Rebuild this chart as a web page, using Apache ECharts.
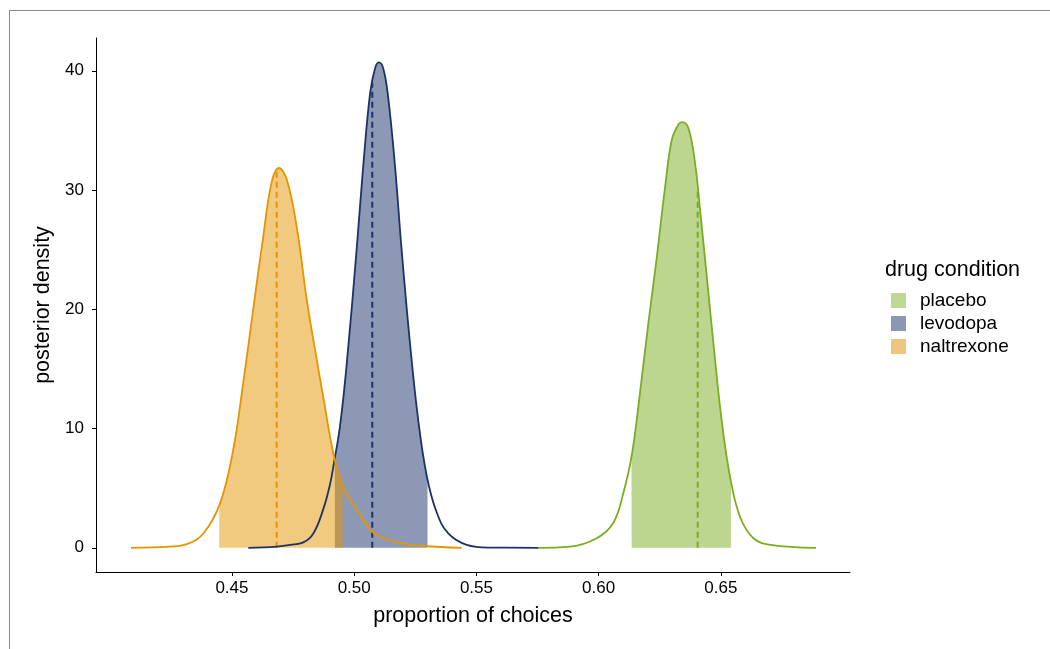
<!DOCTYPE html>
<html>
<head>
<meta charset="utf-8">
<script src="https://cdn.jsdelivr.net/npm/echarts@6/dist/echarts.min.js"></script>
<style>
  html, body { margin: 0; padding: 0; background: #fff; overflow: hidden; }
  .frame {
    position: absolute; left: 9px; top: 10px; width: 2000px; height: 2000px;
    border-left: 1px solid #8a8a8a; border-top: 1px solid #8a8a8a;
  }
  #chart { position: absolute; left: 0; top: 0; width: 1050px; height: 649px; }
</style>
</head>
<body>
<div class="frame"></div>
<div id="chart"></div>
<script>
// groups in legend order
const groups = ['placebo', 'levodopa', 'naltrexone']
const lineColors = ['#7aae22', '#1c3269', '#e69500']
const legendColors = ['#bfd894', '#8a98b4', '#eec67e']

// density curves: [proportion, density]
const placeboCurve = [
  [0.5753, 0], [0.5883, 0.1], [0.5992, 0.8], [0.6060, 2.1], [0.6101, 4.6],
  [0.6135, 7.7], [0.6169, 13.0], [0.6203, 18.8], [0.6238, 24.4], [0.6272, 30.3],
  [0.6299, 34.2], [0.6326, 35.5], [0.6342, 35.7], [0.6367, 35.2], [0.6394, 32.3],
  [0.6415, 28.3], [0.6442, 22.8], [0.6469, 17.2], [0.6503, 10.7], [0.6537, 6.0],
  [0.6578, 2.6], [0.6633, 0.8], [0.6703, 0.25], [0.6889, 0]
]
const levodopaCurve = [
  [0.4567, 0], [0.4683, 0.1], [0.4737, 0.25], [0.4792, 0.45], [0.4833, 1.2],
  [0.4873, 3.2], [0.4901, 5.3], [0.4918, 7.2], [0.4942, 10.2], [0.4969, 15.3],
  [0.5010, 25.0], [0.5037, 32.0], [0.5065, 38.1], [0.5085, 40.2], [0.5101, 40.7],
  [0.5119, 40.2], [0.5139, 37.8], [0.5167, 32.0], [0.5194, 25.0], [0.5228, 17.2],
  [0.5262, 10.7], [0.5297, 6.0], [0.5337, 3.0], [0.5385, 1.2], [0.5460, 0.25],
  [0.5556, 0.02], [0.5753, 0]
]
const naltrexoneCurve = [
  [0.4087, 0], [0.4246, 0.1], [0.4315, 0.3], [0.4383, 1.2], [0.4451, 3.7],
  [0.4505, 8.2], [0.4546, 13.8], [0.4587, 20.0], [0.4628, 26.1], [0.4662, 30.6],
  [0.4692, 31.85], [0.4724, 30.9], [0.4765, 26.9], [0.4806, 20.8], [0.4840, 16.6],
  [0.4873, 12.7], [0.4918, 7.6], [0.4955, 5.1], [0.5010, 3.2], [0.5071, 1.4],
  [0.5105, 0.95], [0.5187, 0.4], [0.5283, 0.15], [0.5440, 0]
]
const curves = [placeboCurve, levodopaCurve, naltrexoneCurve]

// shaded interval: lower / upper bound and the curve height at each edge
const intervalLow = [0.6134, 0.4921, 0.4448]
const intervalHigh = [0.6541, 0.5300, 0.4953]
const edgeLowHeight = [7.7, 7.6, 3.6]
const edgeHighHeight = [5.6, 5.8, 5.3]

// medians (dashed lines) and where they meet the curve
const medians = [0.6405, 0.5074, 0.4683]
const medianTops = [30.1, 39.0, 31.6]

const xTicks = [0.45, 0.50, 0.55, 0.60, 0.65]
const yTicks = [0, 10, 20, 30, 40]

const chart = echarts.init(document.getElementById('chart'))

const fillSeries = groups.map((g, i) => ({
  name: g,
  type: 'line',
  smooth: 0.4,
  showSymbol: false,
  silent: true,
  z: 1,
  lineStyle: { width: 0 },
  itemStyle: { color: lineColors[i] },
  areaStyle: { color: lineColors[i], opacity: 0.5 },
  data: [[intervalLow[i], edgeLowHeight[i]]]
    .concat(curves[i].filter(p => p[0] > intervalLow[i] && p[0] < intervalHigh[i]))
    .concat([[intervalHigh[i], edgeHighHeight[i]]])
}))

const curveSeries = groups.map((g, i) => ({
  name: g + ' curve',
  type: 'line',
  smooth: 0.4,
  showSymbol: false,
  silent: true,
  z: 3,
  lineStyle: { color: lineColors[i], width: 1.8 },
  data: curves[i]
}))

const medianSeries = groups.map((g, i) => ({
  name: g + ' median',
  type: 'line',
  showSymbol: false,
  silent: true,
  z: 2,
  lineStyle: { color: lineColors[i], width: 2, type: [6, 4] },
  data: [[medians[i], 0], [medians[i], medianTops[i]]]
}))

const option = {
  animation: false,
  textStyle: { fontFamily: 'Liberation Sans, Arial, sans-serif', color: '#000' },
  grid: { left: 96, right: 200, top: 38, bottom: 77 },
  title: {
    text: 'drug condition',
    left: 885,
    top: 259,
    padding: 0,
    textStyle: { fontSize: 21.5, fontWeight: 'normal', color: '#000' }
  },
  legend: {
    data: groups.map((g, i) => ({ name: g, icon: 'rect', itemStyle: { color: legendColors[i], opacity: 1 } })),
    orient: 'vertical',
    left: 891,
    top: 291,
    padding: 0,
    itemWidth: 15,
    itemHeight: 15,
    itemGap: 4,
    selectedMode: false,
    textStyle: { fontSize: 19, color: '#000', padding: [0, 0, 0, 9] }
  },
  xAxis: {
    type: 'value',
    min: 0.3944,
    max: 0.7028,
    name: 'proportion of choices',
    nameLocation: 'middle',
    nameGap: 33,
    nameTextStyle: { fontSize: 21.5, color: '#000' },
    axisLine: { onZero: false, lineStyle: { color: '#000', width: 1 } },
    axisTick: { show: true, length: 4, lineStyle: { color: '#000' }, customValues: xTicks },
    axisLabel: {
      fontSize: 17, color: '#000', margin: 8,
      customValues: xTicks,
      formatter: v => v.toFixed(2)
    },
    splitLine: { show: false }
  },
  yAxis: {
    type: 'value',
    min: -2.03,
    max: 42.75,
    name: 'posterior density',
    nameLocation: 'middle',
    nameGap: 35,
    nameTextStyle: { fontSize: 21.5, color: '#000' },
    axisLine: { show: true, onZero: false, lineStyle: { color: '#000', width: 1 } },
    axisTick: { show: true, length: 4, lineStyle: { color: '#000' }, customValues: yTicks },
    axisLabel: { fontSize: 17, color: '#000', margin: 12, customValues: yTicks },
    splitLine: { show: false }
  },
  series: fillSeries.concat(medianSeries, curveSeries)
}

chart.setOption(option)
</script>
</body>
</html>
